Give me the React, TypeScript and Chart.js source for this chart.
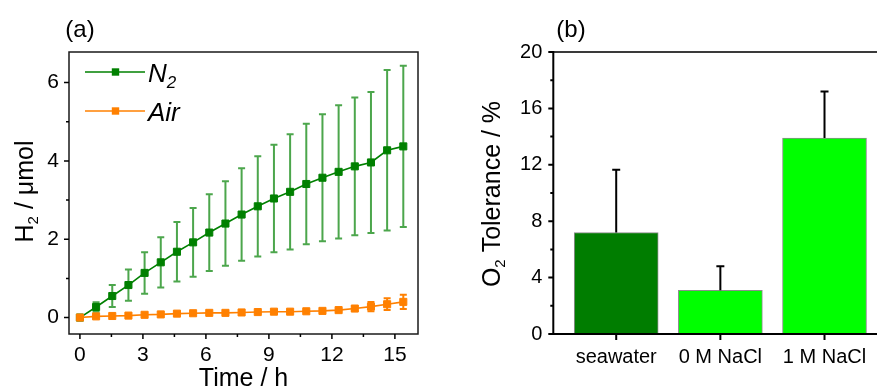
import { useEffect, useRef } from "react";
import { Chart, registerables } from "chart.js";

Chart.register(...registerables);

const FONT = "'Liberation Sans', Arial, Helvetica, sans-serif";

// Panel (a): H2 evolved under N2 and under air
const hours = [0, 0.77, 1.54, 2.31, 3.08, 3.85, 4.62, 5.39, 6.16, 6.93, 7.7, 8.47, 9.24, 10.01, 10.78, 11.55, 12.32, 13.09, 13.86, 14.63, 15.4];
const n2Mean = [0, 0.27, 0.55, 0.83, 1.14, 1.41, 1.68, 1.92, 2.17, 2.4, 2.63, 2.84, 3.04, 3.21, 3.41, 3.57, 3.72, 3.86, 3.96, 4.27, 4.37];
const n2Err = [0, 0.12, 0.28, 0.4, 0.53, 0.64, 0.76, 0.88, 0.98, 1.08, 1.18, 1.28, 1.37, 1.47, 1.54, 1.62, 1.7, 1.76, 1.8, 2.05, 2.06];
const airMean = [0, 0.03, 0.04, 0.05, 0.07, 0.08, 0.1, 0.11, 0.12, 0.12, 0.13, 0.14, 0.15, 0.15, 0.16, 0.17, 0.19, 0.23, 0.28, 0.34, 0.4];
const airErr = [0, 0, 0, 0, 0, 0, 0, 0, 0, 0, 0, 0.01, 0.01, 0.01, 0.02, 0.02, 0.03, 0.06, 0.12, 0.15, 0.18];
const hourTicks = [0, 3, 6, 9, 12, 15];
const hourMinorTicks = [1.5, 4.5, 7.5, 10.5, 13.5];
const h2Ticks = [0, 2, 4, 6];
const h2MinorTicks = [1, 3, 5];

// Panel (b): O2 tolerance per electrolyte
const electrolytes = ["seawater", "0 M NaCl", "1 M NaCl"];
const tolerance = [7.2, 3.1, 13.9];
const toleranceErr = [4.45, 1.7, 3.3];
const toleranceTicks = [0, 4, 8, 12, 16, 20];
const toleranceMinorTicks = [2, 6, 10, 14, 18];

const N2_COLOR = "#008000";
const N2_ERR_COLOR = "#4ca64c";
const AIR_COLOR = "#ff8000";
const BAR_COLORS = ["#007d00", "#00ff00", "#00ff00"];

type Run = { text: string; size: number; dy?: number; italic?: boolean };

function fontOf(r: Run) {
  return `${r.italic ? "italic " : ""}${r.size}px ${FONT}`;
}

function runsWidth(ctx: CanvasRenderingContext2D, runs: Run[]) {
  let w = 0;
  for (const r of runs) {
    ctx.font = fontOf(r);
    w += ctx.measureText(r.text).width;
  }
  return w;
}

// Draws a line of mixed-size text; (x, y) is the baseline point, anchored at the centre or left.
function drawRuns(
  ctx: CanvasRenderingContext2D,
  runs: Run[],
  x: number,
  y: number,
  opts: { rotate?: boolean; align?: "center" | "left" } = {}
) {
  ctx.save();
  ctx.translate(x, y);
  if (opts.rotate) ctx.rotate(-Math.PI / 2);
  ctx.fillStyle = "#000";
  ctx.textAlign = "left";
  ctx.textBaseline = "alphabetic";
  let cx = opts.align === "left" ? 0 : -runsWidth(ctx, runs) / 2;
  for (const r of runs) {
    ctx.font = fontOf(r);
    ctx.fillText(r.text, cx, r.dy || 0);
    cx += ctx.measureText(r.text).width;
  }
  ctx.restore();
}

function drawErrorBars(
  ctx: CanvasRenderingContext2D,
  xs: any,
  ys: any,
  xv: number[],
  mean: number[],
  err: number[],
  color: string,
  capHalf: number,
  upperOnly: boolean
) {
  ctx.save();
  ctx.strokeStyle = color;
  ctx.lineWidth = 2;
  for (let i = 0; i < xv.length; i++) {
    if (!err[i]) continue;
    const px = xs.getPixelForValue(xv[i]);
    const top = ys.getPixelForValue(mean[i] + err[i]);
    const bot = upperOnly ? ys.getPixelForValue(mean[i]) : ys.getPixelForValue(mean[i] - err[i]);
    ctx.beginPath();
    ctx.moveTo(px, top);
    ctx.lineTo(px, bot);
    ctx.moveTo(px - capHalf, top);
    ctx.lineTo(px + capHalf, top);
    if (!upperOnly) {
      ctx.moveTo(px - capHalf, bot);
      ctx.lineTo(px + capHalf, bot);
    }
    ctx.stroke();
  }
  ctx.restore();
}

function drawTicks(
  ctx: CanvasRenderingContext2D,
  scale: any,
  values: number[],
  len: number,
  axis: "x" | "y",
  at: number,
  width: number
) {
  ctx.save();
  ctx.strokeStyle = "#000";
  ctx.lineWidth = width;
  ctx.beginPath();
  for (const v of values) {
    const p = scale.getPixelForValue(v);
    if (axis === "x") {
      ctx.moveTo(p, at);
      ctx.lineTo(p, at + len);
    } else {
      ctx.moveTo(at, p);
      ctx.lineTo(at - len, p);
    }
  }
  ctx.stroke();
  ctx.restore();
}

const panelAPlugin = {
  id: "panelA",
  beforeDatasetsDraw(chart: any) {
    const { ctx, scales } = chart;
    drawErrorBars(ctx, scales.x, scales.y, hours, n2Mean, n2Err, N2_ERR_COLOR, 3.5, false);
    drawErrorBars(ctx, scales.x, scales.y, hours, airMean, airErr, AIR_COLOR, 3.5, false);
  },
  afterDraw(chart: any) {
    const { ctx, chartArea: a, scales } = chart;
    // frame
    ctx.save();
    ctx.strokeStyle = "#1a1a1a";
    ctx.lineWidth = 1.5;
    ctx.strokeRect(a.left, a.top, a.right - a.left, a.bottom - a.top);
    ctx.restore();
    drawTicks(ctx, scales.x, hourTicks, 5, "x", a.bottom, 1.5);
    drawTicks(ctx, scales.x, hourMinorTicks, 3, "x", a.bottom, 1.5);
    drawTicks(ctx, scales.y, h2Ticks, 5, "y", a.left, 1.5);
    drawTicks(ctx, scales.y, h2MinorTicks, 3, "y", a.left, 1.5);

    // legend
    const rows = [
      { color: N2_COLOR, y: 72, runs: [{ text: "N", size: 26, italic: true }, { text: "2", size: 17, dy: 6, italic: true }] },
      { color: AIR_COLOR, y: 111, runs: [{ text: "Air", size: 26, italic: true }] },
    ];
    for (const r of rows) {
      ctx.save();
      ctx.strokeStyle = r.color;
      ctx.fillStyle = r.color;
      ctx.lineWidth = 1.6;
      ctx.beginPath();
      ctx.moveTo(85, r.y);
      ctx.lineTo(145, r.y);
      ctx.stroke();
      ctx.fillRect(115.5 - 3.7, r.y - 3.7, 7.4, 7.4);
      ctx.restore();
      drawRuns(ctx, r.runs as Run[], 148, r.y + 9.5, { align: "left" });
    }

    // titles
    drawRuns(ctx, [{ text: "(a)", size: 24 }], 80, 37);
    drawRuns(ctx, [{ text: "Time / h", size: 25 }], 243.5, 386);
    drawRuns(
      ctx,
      [
        { text: "H", size: 25 },
        { text: "2", size: 15, dy: 5 },
        { text: " / μmol", size: 25 },
      ],
      33,
      191.5,
      { rotate: true }
    );
  },
};

const B_LEFT = 450;

const panelBPlugin = {
  id: "panelB",
  afterDraw(chart: any) {
    const { ctx, chartArea: a, scales } = chart;
    drawErrorBars(ctx, scales.x, scales.y, [0, 1, 2], tolerance, toleranceErr, "#000", 4, true);
    ctx.save();
    ctx.lineCap = "square";
    ctx.lineWidth = 2;
    ctx.strokeStyle = "#3a3a3a";
    ctx.beginPath();
    ctx.moveTo(a.left, a.top);
    ctx.lineTo(a.right, a.top);
    ctx.lineTo(a.right, a.bottom);
    ctx.stroke();
    ctx.strokeStyle = "#000";
    ctx.beginPath();
    ctx.moveTo(a.left, a.top);
    ctx.lineTo(a.left, a.bottom);
    ctx.lineTo(a.right, a.bottom);
    ctx.stroke();
    ctx.restore();
    drawTicks(ctx, scales.x, [0, 1, 2], 6, "x", a.bottom, 2);
    drawTicks(ctx, scales.y, toleranceTicks, 5, "y", a.left, 2);
    drawTicks(ctx, scales.y, toleranceMinorTicks, 3, "y", a.left, 2);

    drawRuns(ctx, [{ text: "(b)", size: 24 }], 571 - B_LEFT, 37);
    drawRuns(
      ctx,
      [
        { text: "O", size: 25 },
        { text: "2", size: 15, dy: 5 },
        { text: " Tolerance / %", size: 25 },
      ],
      500 - B_LEFT,
      194,
      { rotate: true }
    );
  },
};

export default function App() {
  const refA = useRef<HTMLCanvasElement>(null);
  const refB = useRef<HTMLCanvasElement>(null);

  useEffect(() => {
    const chartA = new Chart(refA.current!, {
      type: "line",
      data: {
        datasets: [
          {
            label: "Air",
            data: hours.map((h, i) => ({ x: h, y: airMean[i] })),
            borderColor: AIR_COLOR,
            backgroundColor: AIR_COLOR,
            borderWidth: 1.6,
            pointStyle: "rect",
            pointRadius: 5,
            pointBorderWidth: 1,
            order: 0,
          },
          {
            label: "N2",
            data: hours.map((h, i) => ({ x: h, y: n2Mean[i] })),
            borderColor: N2_COLOR,
            backgroundColor: N2_COLOR,
            borderWidth: 1.6,
            pointStyle: "rect",
            pointRadius: 5,
            pointBorderWidth: 1,
            order: 1,
          },
        ],
      },
      options: {
        responsive: false,
        animation: false,
        layout: { padding: { left: 0, top: 52, right: 450 - 418, bottom: 0 } },
        plugins: { legend: { display: false }, tooltip: { enabled: false } },
        scales: {
          x: {
            type: "linear",
            min: -0.52,
            max: 16.1,
            offset: false,
            grid: { display: false, drawTicks: false },
            border: { display: false },
            afterBuildTicks: (s: any) => {
              s.ticks = hourTicks.map((v) => ({ value: v }));
            },
            afterFit: (s: any) => {
              s.height = 391 - 334;
            },
            ticks: { font: { family: FONT, size: 21 }, color: "#000", padding: 9, maxRotation: 0 },
          },
          y: {
            min: -0.42,
            max: 6.78,
            grid: { display: false, drawTicks: false },
            border: { display: false },
            afterBuildTicks: (s: any) => {
              s.ticks = h2Ticks.map((v) => ({ value: v }));
            },
            afterFit: (s: any) => {
              s.width = 69;
            },
            ticks: { font: { family: FONT, size: 21 }, color: "#000", padding: 10 },
          },
        },
      },
      plugins: [panelAPlugin],
    } as any);

    const chartB = new Chart(refB.current!, {
      type: "bar",
      data: {
        datasets: [
          {
            label: "O2 tolerance",
            data: electrolytes.map((_, i) => ({ x: i, y: tolerance[i] })),
            backgroundColor: BAR_COLORS,
            borderColor: "#8c8c8c",
            borderWidth: 1,
            barThickness: 84,
          },
        ],
      },
      options: {
        responsive: false,
        animation: false,
        layout: { padding: { left: 0, top: 52, right: 450 - (887 - B_LEFT), bottom: 0 } },
        plugins: { legend: { display: false }, tooltip: { enabled: false } },
        scales: {
          x: {
            type: "linear",
            min: -0.604,
            max: 2.6,
            offset: false,
            grid: { display: false, drawTicks: false, offset: false },
            border: { display: false },
            afterBuildTicks: (s: any) => {
              s.ticks = electrolytes.map((_, i) => ({ value: i }));
            },
            afterFit: (s: any) => {
              s.height = 391 - 334;
            },
            ticks: {
              font: { family: FONT, size: 20 },
              color: "#000",
              padding: 11,
              maxRotation: 0,
              autoSkip: false,
              callback: (v: any) => electrolytes[v] ?? "",
            },
          },
          y: {
            min: 0,
            max: 20,
            grid: { display: false, drawTicks: false },
            border: { display: false },
            afterBuildTicks: (s: any) => {
              s.ticks = toleranceTicks.map((v) => ({ value: v }));
            },
            afterFit: (s: any) => {
              s.width = 553.3 - B_LEFT;
            },
            ticks: { font: { family: FONT, size: 20 }, color: "#000", padding: 11 },
          },
        },
      },
      plugins: [panelBPlugin],
    } as any);

    return () => {
      chartA.destroy();
      chartB.destroy();
    };
  }, []);

  return (
    <div
      style={{
        position: "fixed",
        left: 0,
        top: 0,
        width: 877,
        height: 391,
        overflow: "hidden",
        background: "#fff",
      }}
    >
      <canvas ref={refA} width={450} height={391} style={{ position: "absolute", left: 0, top: 0 }} />
      <canvas ref={refB} width={450} height={391} style={{ position: "absolute", left: B_LEFT, top: 0 }} />
    </div>
  );
}
